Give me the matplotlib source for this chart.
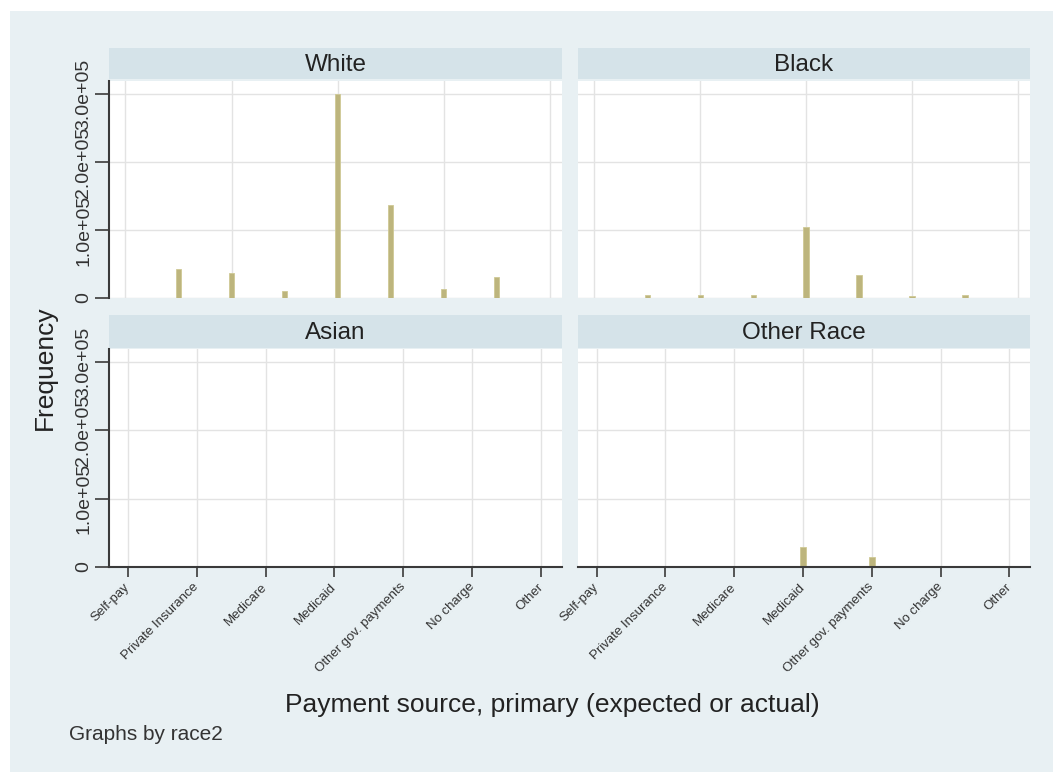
import matplotlib.pyplot as plt
from matplotlib.patches import Rectangle
from matplotlib.ticker import FixedLocator

plt.rcParams['font.family'] = ['Liberation Sans', 'DejaVu Sans']

# Data: frequency of primary payment source by race
categories = ['Self-pay', 'Private Insurance', 'Medicare', 'Medicaid',
              'Other gov. payments', 'No charge', 'Other']
codes = [1, 2, 3, 4, 5, 6, 7]
panels = ['White', 'Black', 'Asian', 'Other Race']
freq_white = [43000, 37000, 10000, 300000, 137000, 13000, 31000]
freq_black = [4000, 4000, 4000, 104000, 34000, 3000, 5000]
freq_asian = [300, 400, 200, 1500, 800, 200, 300]
freq_other = [2000, 500, 300, 29000, 15000, 500, 800]
freqs = [freq_white, freq_black, freq_asian, freq_other]
yticks = [0, 100000, 200000, 300000]
ytick_labels = ['0', '1.0e+05', '2.0e+05', '3.0e+05']

W, H = 1053, 772
bg = '#e8f0f3'
strip_col = '#d5e3e9'
bar_col = '#bdb57d'
grid_col = '#e3e3e3'
axis_col = '#3a3a3a'

fig = plt.figure(figsize=(W / 100, H / 100), dpi=100)
fig.patch.set_facecolor(bg)
# thin white margin on the top and left edges only
fig.add_artist(Rectangle((0, 1 - 11 / H), 1, 11 / H, transform=fig.transFigure,
                         facecolor='white', edgecolor='none', zorder=-5))
fig.add_artist(Rectangle((0, 0), 10 / W, 1, transform=fig.transFigure,
                         facecolor='white', edgecolor='none', zorder=-5))

def box(l, t, w, h):
    return [l / W, 1 - (t + h) / H, w / W, h / H]

col_left = [109, 578]
col_width = [453, 452]
row_plot = [(81, 217), (349, 218)]
row_strip = [(48, 31), (315, 33)]

for i, name in enumerate(panels):
    r, c = divmod(i, 2)
    ax = fig.add_axes(box(col_left[c], row_plot[r][0], col_width[c], row_plot[r][1]))
    ax.set_facecolor('white')
    ax.set_axisbelow(True)

    if r == 0:
        ax.bar(codes, freqs[i], width=0.1, color=bar_col, edgecolor='#cfc995',
               linewidth=0.6)
        ax.set_xlim(-0.31, 8.23)
        ax.xaxis.set_major_locator(FixedLocator([0, 2, 4, 6, 8]))
        ax.tick_params(axis='x', bottom=False, labelbottom=False)
    else:
        ax.bar(codes, freqs[i], width=0.08, color=bar_col, edgecolor='#cfc995',
               linewidth=0.6)
        ax.set_xlim(0.73, 7.30)
        ax.set_xticks(codes)
        ax.set_xticklabels(categories, rotation=45, ha='right', va='center',
                           rotation_mode='anchor', fontsize=9.5, color='#333333')
        ax.tick_params(axis='x', length=7, width=1.2, color=axis_col, pad=6)

    ax.set_ylim(0, 319000)
    ax.set_yticks(yticks)
    if c == 0:
        ax.set_yticklabels(ytick_labels, rotation=90, va='center', fontsize=14,
                           color='#333333')
        ax.tick_params(axis='y', length=10, width=1.2, color=axis_col, pad=2)
    else:
        ax.tick_params(axis='y', left=False, labelleft=False)

    ax.grid(True, color=grid_col, linewidth=1)
    for side in ['top', 'right']:
        ax.spines[side].set_visible(False)
    ax.spines['left'].set_visible(c == 0)
    ax.spines['left'].set_color(axis_col)
    ax.spines['left'].set_linewidth(1.5)
    ax.spines['bottom'].set_visible(r == 1)
    ax.spines['bottom'].set_color(axis_col)
    ax.spines['bottom'].set_linewidth(1.5)

    sax = fig.add_axes(box(col_left[c], row_strip[r][0], col_width[c], row_strip[r][1]))
    sax.set_facecolor(strip_col)
    sax.set_xticks([])
    sax.set_yticks([])
    for s in sax.spines.values():
        s.set_visible(False)
    sax.text(0.5, 0.45, name, transform=sax.transAxes, ha='center', va='center',
             fontsize=17.5, color='#222222')

fig.text(45 / W, 1 - 368 / H, 'Frequency', rotation=90, fontsize=19,
         ha='center', va='center', color='#222222')
fig.text(552 / W, 1 - 705 / H, 'Payment source, primary (expected or actual)',
         fontsize=19, ha='center', va='center', color='#222222')
fig.text(69 / W, 1 - 735 / H, 'Graphs by race2', fontsize=15,
         ha='left', va='center', color='#333333')

fig.savefig('out.png', dpi=100, facecolor=fig.get_facecolor())
